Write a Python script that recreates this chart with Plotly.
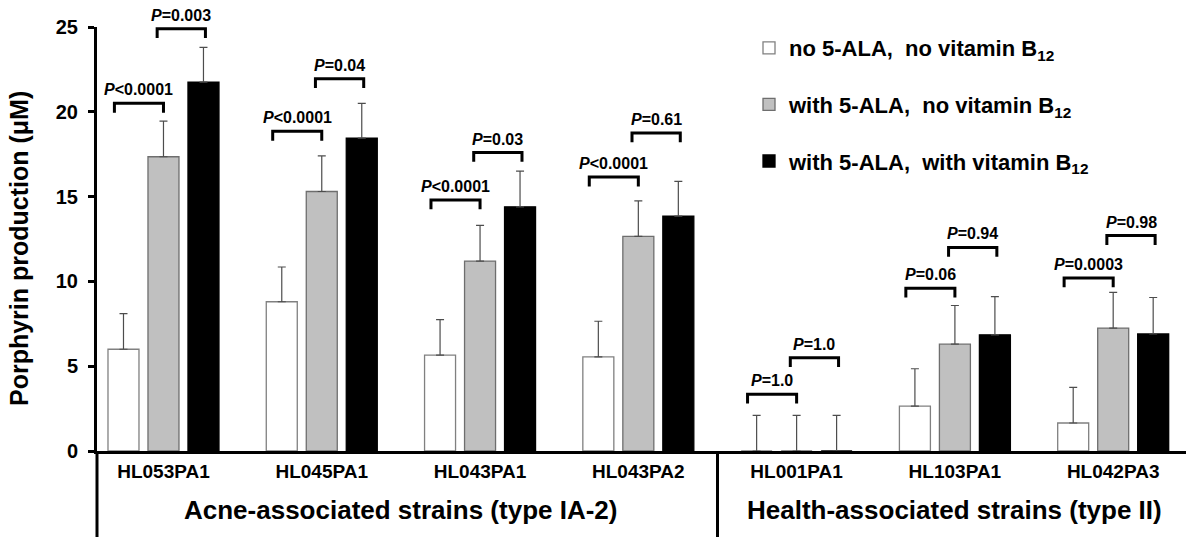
import plotly.graph_objects as go

strains = ["HL053PA1", "HL045PA1", "HL043PA1", "HL043PA2", "HL001PA1", "HL103PA1", "HL042PA3"]
series_names = [
    "no 5-ALA,  no vitamin B<sub>12</sub>",
    "with 5-ALA,  no vitamin B<sub>12</sub>",
    "with 5-ALA,  with vitamin B<sub>12</sub>",
]
no_ala = [6.0, 8.8, 5.65, 5.55, 0.0, 2.65, 1.65]
with_ala = [17.35, 15.3, 11.2, 12.65, 0.0, 6.3, 7.25]
with_ala_b12 = [21.75, 18.45, 14.4, 13.85, 0.0, 6.85, 6.9]
err_no_ala = [2.1, 2.05, 2.1, 2.1, 2.1, 2.2, 2.1]
err_with_ala = [2.1, 2.1, 2.1, 2.1, 2.1, 2.28, 2.1]
err_with_ala_b12 = [2.05, 2.05, 2.1, 2.05, 2.1, 2.25, 2.15]

# p-values: comparison 1 (no ALA vs ALA), comparison 2 (ALA vs ALA+B12)
p_first = ["<0.0001", "<0.0001", "<0.0001", "<0.0001", "=1.0", "=0.06", "=0.0003"]
p_second = ["=0.003", "=0.04", "=0.03", "=0.61", "=1.0", "=0.94", "=0.98"]
bracket1_level = [20.5, 18.85, 14.8, 16.15, 3.35, 9.6, 10.2]
bracket2_level = [24.9, 21.95, 17.6, 18.75, 5.5, 12.0, 12.7]

group_labels = ["Acne-associated strains (type IA-2)", "Health-associated strains (type II)"]
y_title = "Porphyrin production (μM)"
y_ticks = [0, 5, 10, 15, 20, 25]

FONT = "Liberation Sans, Arial, sans-serif"
W, H = 1186, 537
ML, MR, MT, MB = 97, 0, 27, 86
XR = [-0.42, 6.46]

fig = go.Figure()
values = [no_ala, with_ala, with_ala_b12]
errs = [err_no_ala, err_with_ala, err_with_ala_b12]
fills = ["#ffffff", "#c0c0c0", "#000000"]
lines = ["#808080", "#6e6e6e", "#000000"]
for i in range(3):
    fig.add_trace(go.Bar(
        x=list(range(len(strains))), y=values[i], name=f"<b>{series_names[i]}</b>",
        legendgroup=f"g{i}",
        marker=dict(color=fills[i], line=dict(color=lines[i], width=1.3)),
        error_y=dict(type="data", symmetric=False, array=errs[i],
                     arrayminus=[0] * len(strains), color="#4d4d4d",
                     thickness=1.2, width=4),
    ))

shapes = []
annotations = []
tick = 0.55
for k in range(len(strains)):
    for (x0, x1, lvl, txt) in [(k - 0.31, k + 0.0, bracket1_level[k], p_first[k]),
                               (k - 0.04, k + 0.265, bracket2_level[k], p_second[k])]:
        shapes.append(dict(type="path", xref="x", yref="y",
                           path=f"M {x0},{lvl - tick} L {x0},{lvl} L {x1},{lvl} L {x1},{lvl - tick}",
                           line=dict(color="black", width=3)))
        annotations.append(dict(x=(x0 + x1) / 2, y=lvl, xref="x", yref="y", yshift=3,
                                xanchor="center",
                                text=f"<b><i>P</i>{txt}</b>", showarrow=False,
                                yanchor="bottom", font=dict(family=FONT, size=16, color="black")))

plot_w = W - ML - MR
plot_h = H - MT - MB
def xpaper(v):
    return (v - XR[0]) / (XR[1] - XR[0])
ybottom = -MB / plot_h

# extended left axis and group divider
shapes.append(dict(type="line", xref="paper", yref="paper", x0=0, x1=0, y0=0, y1=ybottom,
                   line=dict(color="black", width=3)))
shapes.append(dict(type="line", xref="paper", yref="paper", x0=xpaper(3.5), x1=xpaper(3.5),
                   y0=0, y1=ybottom, line=dict(color="black", width=3)))

for gx, gl in [(1.5, group_labels[0]), (5.0, group_labels[1])]:
    annotations.append(dict(x=xpaper(gx), y=(451 - 510) / plot_h, xref="paper", yref="paper",
                            text=f"<b>{gl}</b>", showarrow=False, xanchor="center",
                            yanchor="middle", font=dict(family=FONT, size=26, color="black")))

# y-axis title placed as a rotated annotation
annotations.append(dict(x=(19 - ML) / plot_w, y=(451 - 249) / plot_h, xref="paper", yref="paper",
                        text=f"<b>{y_title}</b>", textangle=-90, showarrow=False,
                        xanchor="center", yanchor="middle",
                        font=dict(family=FONT, size=25, color="black")))

fig.update_layout(
    width=W, height=H,
    margin=dict(l=ML, r=MR, t=MT, b=MB, pad=0),
    paper_bgcolor="white", plot_bgcolor="white",
    barmode="group", bargap=0.242, bargroupgap=0.225,
    font=dict(family=FONT, color="black"),
    shapes=shapes, annotations=annotations,
    legend=dict(x=(749 - ML) / plot_w, y=1.0, xanchor="left", yanchor="top",
                font=dict(family=FONT, size=22, color="black"),
                tracegroupgap=25, bgcolor="rgba(0,0,0,0)"),
    xaxis=dict(range=XR, tickmode="array", tickvals=list(range(len(strains))),
               ticktext=[f"<b>{s}</b>" for s in strains],
               tickfont=dict(family=FONT, size=19, color="black"),
               showline=True, linecolor="black", linewidth=3, ticks="outside",
               ticklen=1, tickcolor="rgba(0,0,0,0)", showgrid=False, zeroline=False),
    yaxis=dict(range=[0, 25], tickmode="array", tickvals=y_ticks,
               ticktext=[f"<b>{v}</b>" for v in y_ticks],
               tickfont=dict(family=FONT, size=20, color="black"),
               showline=True, linecolor="black", linewidth=3, ticks="outside",
               ticklen=6, tickwidth=3, tickcolor="black", ticklabelstandoff=6,
               showgrid=False, zeroline=False),
)

fig.write_html("out.html")
